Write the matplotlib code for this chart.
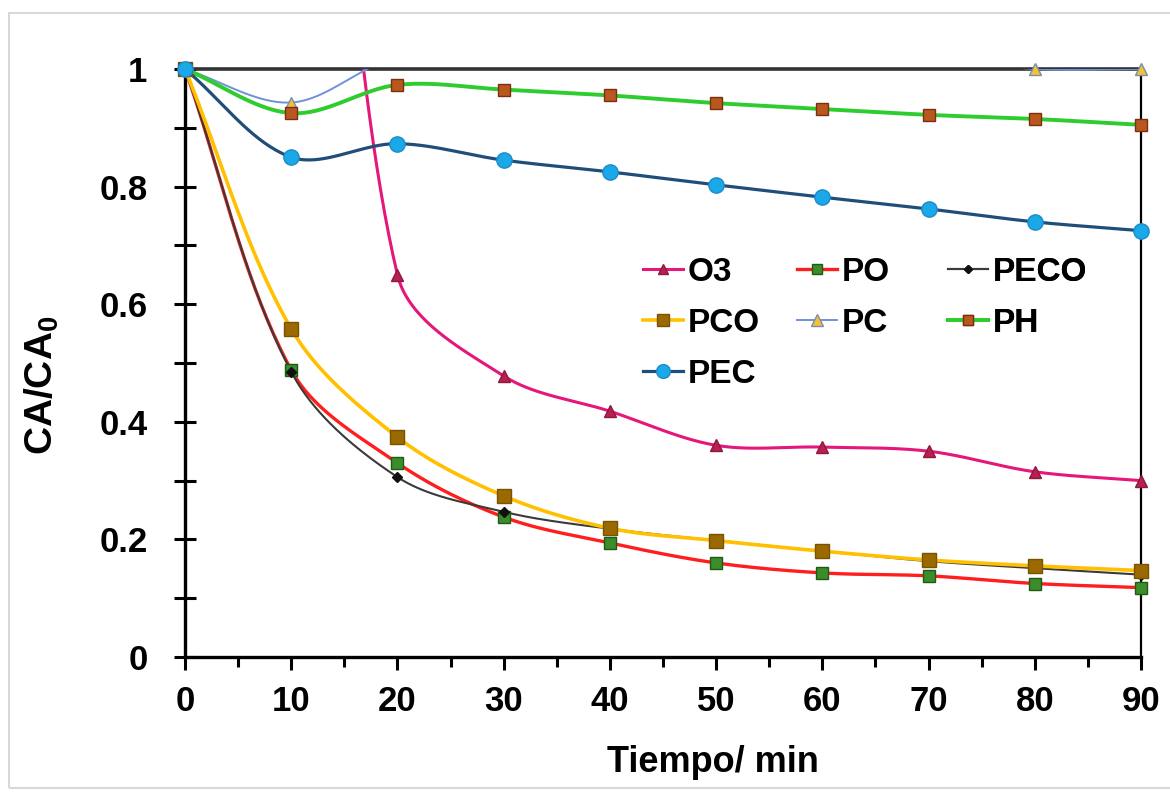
"""CA/CA0 vs time for the seven treatments (Excel-style smoothed lines)."""
import matplotlib

matplotlib.use("Agg")
import matplotlib.pyplot as plt
import numpy as np
from matplotlib.lines import Line2D
from matplotlib.patches import Rectangle
from matplotlib.ticker import MultipleLocator

plt.rcParams["font.family"] = ["Liberation Sans", "DejaVu Sans"]
plt.rcParams["font.weight"] = "bold"

t_min = [0, 10, 20, 30, 40, 50, 60, 70, 80, 90]

# values above 1 are hidden by the axis limit (as in the original plot)
o3 = [1.0, 2.0, 0.65, 0.478, 0.418, 0.36, 0.357, 0.35, 0.315, 0.30]
po = [1.0, 0.488, 0.33, 0.238, 0.194, 0.16, 0.143, 0.138, 0.125, 0.118]
peco = [1.0, 0.485, 0.306, 0.247, 0.218, 0.198, 0.18, 0.163, 0.151, 0.14]
pco = [1.0, 0.558, 0.374, 0.274, 0.219, 0.198, 0.18, 0.165, 0.155, 0.147]
pc = [1.0, 0.943, 1.02, 1.02, 1.02, 1.02, 1.02, 1.02, 1.0, 1.0]
ph = [1.0, 0.925, 0.973, 0.965, 0.955, 0.942, 0.932, 0.922, 0.915, 0.905]
pec = [1.0, 0.85, 0.873, 0.845, 0.825, 0.803, 0.782, 0.762, 0.74, 0.725]

series = [
    # name, values, line colour, line width, marker, size, face, edge
    ("O3", o3, "#E5177A", 2.2, "^", 8, "#B8204E", "#8A1A40"),
    ("PO", po, "#FF1E1E", 2.4, "s", 8, "#3C8C2C", "#1E5A14"),
    ("PECO", peco, "#3A3A3A", 1.5, "D", 5, "#111111", "#111111"),
    ("PCO", pco, "#FFC000", 2.6, "s", 10, "#9A6A00", "#7A5200"),
    ("PC", pc, "#7090D8", 1.4, "^", 9, "#F2C232", "#7A8CB8"),
    ("PH", ph, "#2ECC2E", 2.8, "s", 8, "#B8581E", "#7A3010"),
    ("PEC", pec, "#1F4E79", 2.3, "o", 11, "#1AA8E8", "#1D8CC8"),
]

AX_W, AX_H = 956, 588  # axes size in pixels, used for the smoothing


def smooth(x, y, n=40):
    # bezier through the points with chord-weighted tangents (Excel "smoothed line")
    p = np.column_stack([np.asarray(x, float) * AX_W / 90, np.asarray(y, float) * AX_H])
    k = len(p)
    pts = [p[:1]]
    s = np.linspace(0, 1, n)[1:, None]
    for i in range(k - 1):
        a, b = p[i], p[i + 1]
        prev = p[i - 1] if i > 0 else a
        nxt = p[i + 2] if i + 2 < k else b
        dab = np.hypot(*(b - a))
        dpa = np.hypot(*(a - prev))
        dbn = np.hypot(*(nxt - b))
        c1 = a + (b - prev) * dab / (dpa + dab) / 3
        c2 = b - (nxt - a) * dab / (dab + dbn) / 3
        seg = ((1 - s) ** 3) * a + 3 * ((1 - s) ** 2) * s * c1 + 3 * (1 - s) * s**2 * c2 + s**3 * b
        pts.append(seg)
    out = np.vstack(pts)
    return out[:, 0] * 90 / AX_W, out[:, 1] / AX_H


fig = plt.figure(figsize=(11.7, 7.93), dpi=100)
fig.patches.append(Rectangle((9 / 1170, 5 / 793), 1.1, 775 / 793, transform=fig.transFigure,
                             fill=False, edgecolor="#D8D8D8", lw=1.5))
ax = fig.add_axes([185 / 1170, 1 - 657 / 793, AX_W / 1170, AX_H / 793])

handles = {}
for name, vals, lc, lw, mk, ms, mf, me in series:
    xs, ys = smooth(t_min, vals)
    ax.plot(xs, ys, color=lc, lw=lw, solid_capstyle="round", zorder=3)
    v = np.asarray(vals)
    keep = v <= 1.0
    ax.plot(np.asarray(t_min)[keep], v[keep], ls="none", marker=mk, ms=ms,
            mfc=mf, mec=me, mew=1.0, clip_on=False, zorder=4)
    handles[name] = Line2D([], [], color=lc, lw=lw, marker=mk, ms=ms * 0.9, mfc=mf, mec=me, mew=1.0)

ax.set_xlim(0, 90)
ax.set_ylim(0, 1)
ax.xaxis.set_major_locator(MultipleLocator(10))
ax.xaxis.set_minor_locator(MultipleLocator(5))
ax.yaxis.set_major_locator(MultipleLocator(0.2))
ax.yaxis.set_minor_locator(MultipleLocator(0.1))
ax.yaxis.set_major_formatter(plt.FuncFormatter(lambda v, p: f"{v:g}"))
ax.tick_params(axis="y", which="both", direction="inout", length=16, width=2.2,
               pad=19, labelsize=25)
ax.tick_params(axis="x", which="major", direction="out", length=9, width=2.2,
               pad=11, labelsize=25)
ax.tick_params(axis="x", which="minor", direction="out", length=7, width=2.2)
ax.tick_params(right=False, top=False)
for side in ("left", "bottom"):
    ax.spines[side].set_linewidth(2.4)
ax.spines["top"].set_linewidth(2.6)
ax.spines["top"].set_color("#333333")
ax.spines["right"].set_linewidth(1.6)

fig.text(713 / 1170, 1 - 763 / 793, "Tiempo/ min", fontsize=26, fontweight="bold",
         ha="center", va="center")
fig.text(42 / 1170, 1 - 385 / 793, "CA/CA$_\\mathregular{0}$", fontsize=28, fontweight="bold",
         rotation=90, ha="center", va="center")

# three one-column legends so the columns sit where the original has them
columns = [(643, ["O3", "PCO", "PEC"]), (797, ["PO", "PC"]), (948, ["PECO", "PH"])]
for x0, names in columns:
    leg = ax.legend([handles[k] for k in names], names, frameon=False,
                    loc="upper left", bbox_to_anchor=(x0 / 1170, 1 - 257 / 793),
                    bbox_transform=fig.transFigure, fontsize=24, handlelength=1.2,
                    handletextpad=0.15, labelspacing=0.6, borderpad=0, borderaxespad=0)
    ax.add_artist(leg)

fig.savefig("out.png", dpi=100)
